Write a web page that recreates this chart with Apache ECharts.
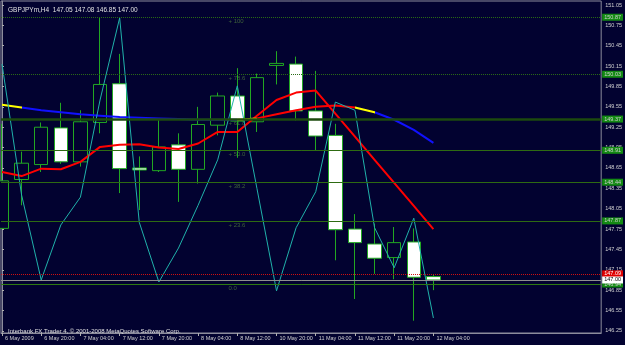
<!DOCTYPE html>
<html>
<head>
<meta charset="utf-8">
<script src="https://cdn.jsdelivr.net/npm/echarts@6/dist/echarts.min.js"></script>
<style>
html,body{margin:0;padding:0;background:#020230;}
#c{width:625px;height:345px;}
</style>
</head>
<body>
<div id="c"></div>
<script>
// ---- data ----
const symbolName = 'GBPJPYm,H4';
const barTimes = ['6 May 12:00','6 May 16:00','6 May 20:00','7 May 00:00','7 May 04:00','7 May 08:00','7 May 12:00','7 May 16:00','7 May 20:00','8 May 00:00','8 May 04:00','8 May 08:00','8 May 12:00','8 May 16:00','10 May 20:00','11 May 00:00','11 May 04:00','11 May 08:00','11 May 12:00','11 May 16:00','11 May 20:00','12 May 00:00','12 May 04:00'];
const openP  = [147.76,148.48,148.70,149.24,148.74,149.32,149.89,148.65,148.61,148.99,148.63,149.28,149.71,149.33,150.16,150.18,149.49,149.13,147.75,147.53,147.33,147.56,147.05];
const closeP = [148.46,148.72,149.25,148.74,149.33,149.88,148.64,148.62,148.96,148.63,149.29,149.71,149.34,149.98,150.19,149.49,149.12,147.74,147.55,147.32,147.55,147.04,147.00];
const highP  = [149.30,148.89,149.32,149.61,149.50,150.87,150.33,148.82,149.36,149.16,149.55,149.76,150.12,150.04,150.37,150.29,150.08,149.30,147.97,147.83,147.78,147.76,147.08];
const lowP   = [147.76,148.10,148.59,148.71,148.67,149.16,148.28,148.03,148.59,148.15,148.42,149.13,148.80,149.18,149.88,149.35,148.91,147.29,146.72,147.09,147.01,146.40,146.85];
const maRed  = [148.59,148.53,148.64,148.63,148.74,148.96,148.99,149.00,148.95,148.93,149.01,149.18,149.18,149.42,149.65,149.76,149.79,149.45,149.11,148.77,148.43,148.09,147.75];
const maSlow = [149.58,149.54,149.50,149.47,149.44,149.42,149.40,149.39,149.38,149.37,149.36,149.36,149.36,149.38,149.44,149.50,149.55,149.57,149.54,149.47,149.36,149.21,149.02];
const zigzag = [150.18,148.25,147.00,147.81,148.22,149.65,150.86,147.85,146.97,147.47,148.10,148.77,149.86,148.35,146.84,147.77,148.30,149.62,149.50,147.77,147.18,147.91,146.44];
const fibLevels = [150.87,150.03,149.37,148.91,148.44,147.87,146.94];
const fibNames  = ['+ 100','+ 78.6','+ 61.8','+ 50.0','+ 38.2','+ 23.6','0.0'];
const otherLevels = [147.09,147.00];
const xTickIndex = [0,2,4,6,8,10,12,14,16,18,20,22];
const xTickLabels = ['6 May 2009','6 May 20:00','7 May 04:00','7 May 12:00','7 May 20:00','8 May 04:00','8 May 12:00','10 May 20:00','11 May 04:00','11 May 12:00','11 May 20:00','12 May 04:00'];
const yTickLabels = [146.25,146.55,146.85,147.15,147.45,147.75,148.05,148.35,148.65,148.95,149.25,149.55,149.85,150.15,150.45,150.75,151.05];
const copyright = 'Interbank FX Trader 4, \u00a9 2001-2008 MetaQuotes Software Corp.';

// ---- styles ----
const BG = '#020230';
const GREEN = '#22a822';
const FONT = 'Liberation Sans';
const FIB_LABEL_X = 11.55;
const fibStyle = [
  {color:'#2a6a16', type:'dotted', width:1},
  {color:'#2a6a16', type:'dotted', width:1},
  {color:'#1d4a0e', type:'solid', width:2.5},
  {color:'#2e6b12', type:'solid', width:1},
  {color:'#2e6b12', type:'solid', width:1},
  {color:'#2e6b12', type:'solid', width:1},
  {color:'#2e7a12', type:'solid', width:1}
];
const otherStyle = [
  {line:{color:'#d01010', type:'dotted', width:1}, bg:'#e00000', fg:'#ffffff'},
  {line:{color:'#909090', type:'solid', width:1}, bg:'#ffffff', fg:'#000000'}
];

const last = openP.length - 1;
const titleText = symbolName + '  ' + [openP[last], highP[last], lowP[last], closeP[last]].map(v => v.toFixed(2)).join(' ');

function levelLine(value, lineStyle, bg, fg) {
  return {
    yAxis: value,
    lineStyle: lineStyle,
    label: {
      show: true, position: 'end', distance: 1,
      formatter: value.toFixed(2),
      backgroundColor: bg, color: fg,
      fontSize: 5.5, fontFamily: FONT, padding: [1, 2, 0, 2]
    }
  };
}
const markData = [];
fibLevels.forEach((v, i) => markData.push(levelLine(v, fibStyle[i], '#138a13', '#d0d0d0')));
otherLevels.forEach((v, i) => markData.push(levelLine(v, otherStyle[i].line, otherStyle[i].bg, otherStyle[i].fg)));
const candleData = openP.map((o, i) => [i, o, closeP[i], lowP[i], highP[i]]);
const idx = barTimes.map((t, i) => i);

const chart = echarts.init(document.getElementById('c'), null, {renderer: 'canvas'});
chart.setOption({
  backgroundColor: BG,
  animation: false,
  title: [
    {text: titleText, left: 3, top: 2, textStyle: {color: '#e0e0e0', fontSize: 6.5, fontWeight: 'normal', fontFamily: FONT}},
    {text: copyright, left: 3, top: 323, textStyle: {color: '#e0e0e0', fontSize: 6, fontWeight: 'normal', fontFamily: FONT}}
  ],
  grid: {left: 1, right: 23, top: 1, bottom: 12, show: true, borderColor: '#8c8c9c', borderWidth: 1, backgroundColor: 'transparent'},
  xAxis: {
    type: 'value', min: -0.051, max: 30.556,
    axisLine: {show: true, lineStyle: {color: '#8c8c9c'}},
    splitLine: {show: false},
    axisTick: {show: true, customValues: xTickIndex, length: 3, lineStyle: {color: '#b0b0b0'}},
    axisLabel: {
      customValues: xTickIndex, color: '#d0d0d0', fontSize: 5.5, fontFamily: FONT,
      align: 'left', margin: 2, padding: [0, 0, 0, 3],
      formatter: v => xTickLabels[xTickIndex.indexOf(Math.round(v))] || ''
    }
  },
  yAxis: {
    type: 'value', position: 'right', min: 146.219, max: 151.109, scale: true,
    axisLine: {show: true, lineStyle: {color: '#8c8c9c'}},
    splitLine: {show: false},
    axisTick: {show: true, customValues: yTickLabels, length: 2, lineStyle: {color: '#b0b0b0'}},
    axisLabel: {customValues: yTickLabels, color: '#d0d0d0', fontSize: 5.5, fontFamily: FONT, margin: 4, formatter: v => v.toFixed(2)}
  },
  visualMap: {
    type: 'piecewise', show: false, seriesIndex: 3, dimension: 0,
    pieces: [
      {gte: -5, lt: 1, color: '#ffff00'},
      {gte: 1, lt: 12, color: '#1010ff'},
      {gte: 12, lt: 13, color: '#ffff00'},
      {gte: 13, lt: 18, color: '#ff0000'},
      {gte: 18, lt: 19, color: '#ffff00'},
      {gte: 19, lte: 40, color: '#1010ff'}
    ]
  },
  series: [
    {
      type: 'line', data: [], z: 1, silent: true,
      markLine: {symbol: 'none', silent: true, animation: false, data: markData}
    },
    {
      type: 'candlestick', data: candleData, barWidth: 14, z: 2,
      itemStyle: {color: BG, color0: '#ffffff', borderColor: GREEN, borderColor0: GREEN, borderWidth: 1}
    },
    {
      type: 'line', data: idx.map(i => [i, maRed[i]]), symbol: 'none', z: 3,
      lineStyle: {color: '#ff0000', width: 2}
    },
    {
      type: 'line', data: idx.map(i => [i, maSlow[i]]), symbol: 'none', z: 3,
      lineStyle: {width: 2}
    },
    {
      type: 'line', data: idx.map(i => [i, zigzag[i]]), symbol: 'none', z: 4,
      lineStyle: {color: '#20b2aa', width: 1}
    },
    {
      type: 'scatter', data: fibLevels.map(v => [FIB_LABEL_X, v]), symbolSize: 0, z: 1, silent: true,
      label: {show: true, position: 'right', distance: 0, offset: [0, 4], color: '#4d7a3d', fontSize: 6, fontFamily: FONT,
        formatter: p => fibNames[p.dataIndex]}
    }
  ]
});
</script>
</body>
</html>
